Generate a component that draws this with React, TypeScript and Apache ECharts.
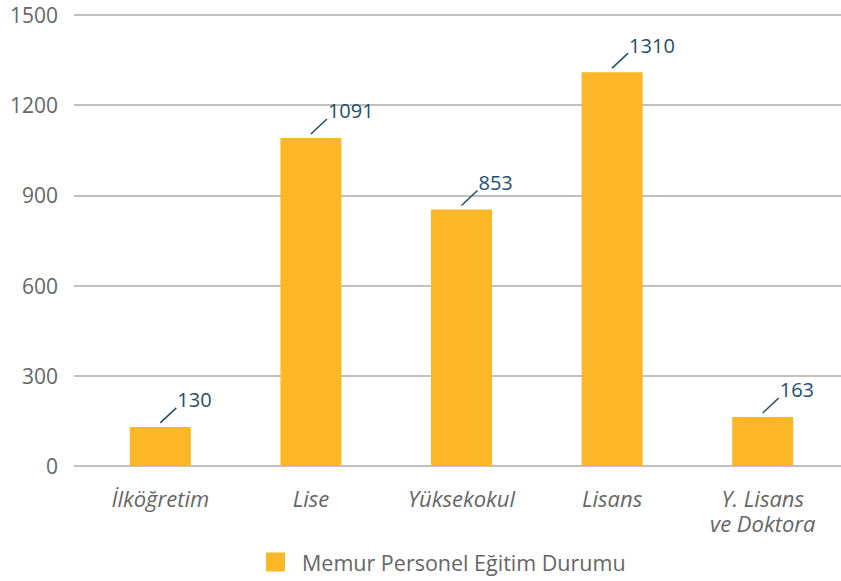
import React, { useEffect, useRef } from "react";
import * as echarts from "echarts";

const categories = ["İlköğretim", "Lise", "Yüksekokul", "Lisans", "Y. Lisans\nve Doktora"];
const values = [130, 1091, 853, 1310, 163];
const seriesName = "Memur Personel Eğitim Durumu";
const yMin = 0;
const yMax = 1500;
const yInterval = 300;

const FONT = "'Open Sans', 'Noto Sans', sans-serif";

export default function App() {
  const ref = useRef<HTMLDivElement>(null);
  useEffect(() => {
    if (!ref.current) return;
    const chart = echarts.init(ref.current, undefined, { renderer: "svg" });
    chart.setOption({
      animation: false,
      backgroundColor: "#ffffff",
      legend: {
        data: [{ name: seriesName, icon: "rect" }],
        left: 266,
        top: 551,
        padding: 0,
        itemWidth: 19,
        itemHeight: 19,
        textStyle: { color: "#666666", fontSize: 21.5, fontFamily: FONT, padding: [0, 0, 0, 12] },
        selectedMode: false,
      },
      grid: [
        { left: 74, right: 0, top: 15, bottom: 115, containLabel: false },
        { left: 85, right: 3, top: 15, bottom: 115, containLabel: false },
      ],
      xAxis: [
        { type: "category", gridIndex: 0, data: categories, show: false },
        {
          type: "category",
          gridIndex: 1,
          data: categories,
          axisLine: { show: false },
          axisTick: { show: false },
          axisLabel: {
            color: "#666666",
            fontSize: 22,
            fontStyle: "italic",
            fontFamily: FONT,
            margin: 19,
            lineHeight: 25,
            interval: 0,
          },
        },
      ],
      yAxis: [
        {
          type: "value",
          gridIndex: 0,
          min: yMin,
          max: yMax,
          interval: yInterval,
          axisLine: { show: false },
          axisTick: { show: false },
          axisLabel: {
            color: "#666666",
            fontSize: 21,
            fontFamily: FONT,
            margin: 16,
            formatter: (v: number) => String(v),
          },
          splitLine: { lineStyle: { color: "#c0c0c0", width: 2 } },
        },
        { type: "value", gridIndex: 1, min: yMin, max: yMax, interval: yInterval, show: false },
      ],
      series: [
        {
          name: seriesName,
          type: "bar",
          xAxisIndex: 1,
          yAxisIndex: 1,
          data: values,
          barWidth: 61,
          itemStyle: { color: "#FBB726" },
        },
        {
          type: "custom",
          xAxisIndex: 1,
          yAxisIndex: 1,
          data: values.map((v, i) => [i, v]),
          silent: true,
          renderItem: (params: any, api: any) => {
            const p = api.coord([api.value(0), api.value(1)]);
            const x = p[0];
            const y = p[1];
            return {
              type: "group",
              children: [
                {
                  type: "line",
                  shape: { x1: x, y1: y - 4, x2: x + 16, y2: y - 19 },
                  style: { stroke: "#1f4e6a", lineWidth: 1.5 },
                },
                {
                  type: "text",
                  x: x + 17,
                  y: y - 27,
                  style: {
                    text: String(api.value(1)),
                    fill: "#1f4e6a",
                    fontSize: 20,
                    fontFamily: FONT,
                    align: "left",
                    verticalAlign: "middle",
                  },
                },
              ],
            };
          },
        },
      ],
    });
    return () => chart.dispose();
  }, []);
  return <div ref={ref} style={{ width: 841, height: 581, position: "absolute", left: 0, top: 0 }} />;
}
